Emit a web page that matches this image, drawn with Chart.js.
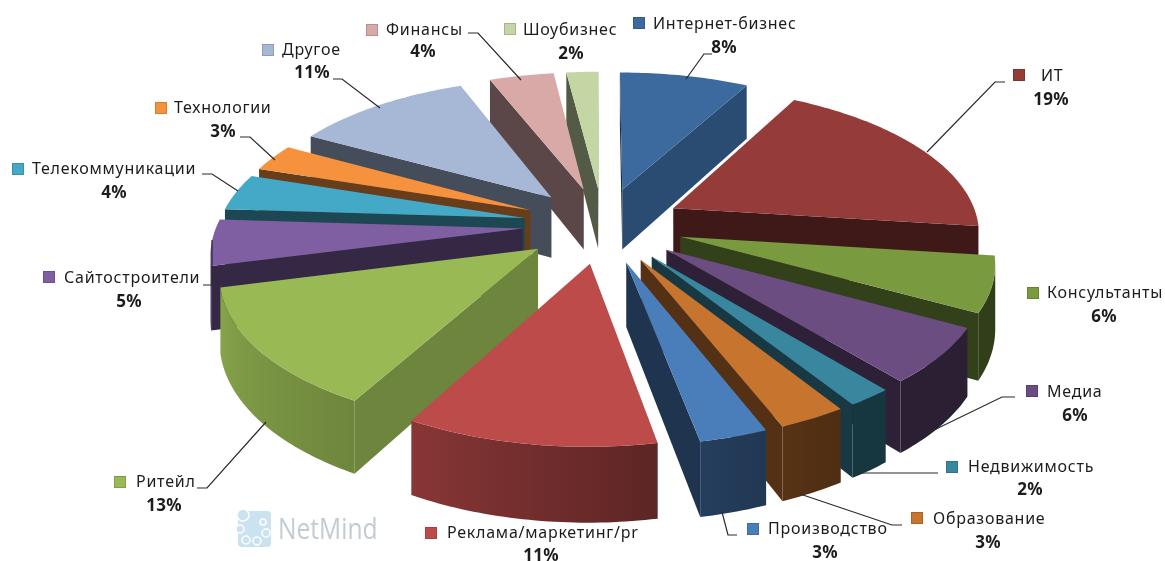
<!DOCTYPE html>
<html><head><meta charset="utf-8">
<style>html,body{margin:0;padding:0;background:#fff}canvas{display:block;filter:blur(0.45px)}</style>
<script src="https://cdn.jsdelivr.net/npm/chart.js@4"></script></head>
<body><canvas id="c" width="1165" height="561"></canvas>
<script>
const categories = ["Интернет-бизнес","ИТ","Консультанты","Медиа","Недвижимость","Образование","Производство","Реклама/маркетинг/pr","Ритейл","Сайтостроители","Телекоммуникации","Технологии","Другое","Финансы","Шоубизнес"];
const values = [8,19,6,6,2,3,3,11,13,5,4,3,11,4,2];
const colors = ["#3c6a9f","#953c3a","#7a9a40","#6b4d82","#38879f","#c7742f","#4a7ebb","#bc4b4a","#98b954","#7f5fa1","#44a9c6","#f6923d","#a7b7d6","#d9a9a8","#c5d6a5"];
// key x, key y, name x, name y, percent centre x, percent y
const labelLayout = [[633,17,653,24,724,48],[1013,69,1041,76,1051,100],[1027,287,1047,293,1104,317],[1026,385,1047,392,1075,416],[946,461,968,467,1030,490],[911,512,933,519,988,543],[747,523,768,529,825,553],[425,527,447,533,541,556],[114,476,136,482,164,506],[43,271,64,278,129,302],[12,163,32,169,114,193],[155,102,174,108,223,132],[262,44,282,50,312,73],[366,24,386,30,423,52],[504,23,523,30,571,54]];
const leaders = [[[686,79],[704,54],[712,54]],[[927,152],[995,82],[1005,82]],null,[[932,431],[1002,397],[1015,397]],[[858,473],[938,473]],[[800,494],[892,525],[902,525]],[[722,512],[728,535],[737,535]],null,[[266,422],[207,488],[197,488]],[[212,240],[212,285],[203,285]],[[238,191],[212,174],[202,174]],[[275,160],[250,137],[240,137]],[[380,108],[342,79],[333,79]],[[521,80],[478,33],[468,33]],null];
const view = {cx:603, cy:225, radius:306, tilt:0.47, persp:2100, depth:62};

function proj(u,v,h){
  const f = 1/(1+v/view.persp);
  return [view.cx+u*f, view.cy-v*view.tilt*f+(h||0)*f];
}
function shade(hex,s){
  const n=parseInt(hex.slice(1),16);
  return `rgb(${Math.round((n>>16&255)*s)},${Math.round((n>>8&255)*s)},${Math.round((n&255)*s)})`;
}
function wallShade(deg){
  if(deg<=150) return 0.4;
  if(deg<=170) return 0.4+(deg-150)*0.005;
  if(deg<=210) return 0.5+(deg-170)*0.00575;
  return Math.min(0.9,0.73+(deg-210)*0.0035);
}
function poly(ctx,p,fill){
  ctx.beginPath();p.forEach((q,i)=>i?ctx.lineTo(q[0],q[1]):ctx.moveTo(q[0],q[1]));ctx.closePath();
  ctx.fillStyle=fill;ctx.fill();
}
function quad(ctx,a,b,h,fill){
  poly(ctx,[proj(a[0],a[1],0),proj(b[0],b[1],0),proj(b[0],b[1],h),proj(a[0],a[1],h)],fill);
}
const pie3d = {
  id:'pie3d',
  beforeDatasetDraw(chart,args){
    const ctx=chart.ctx, arcs=chart.getDatasetMeta(args.index).data;
    const items=arcs.map((el,i)=>{
      const s=view.radius/el.outerRadius, off=(el.options.offset/4)*s;
      const mid=(el.startAngle+el.endAngle)/2;
      return {i,el,off,mid};
    }).sort((a,b)=>Math.sin(a.mid)-Math.sin(b.mid));
    for(const it of items){
      const {i,el,off,mid}=it, col=colors[i], R=view.radius;
      const ax=Math.cos(mid)*off, ay=-Math.sin(mid)*off;
      const pts=[], n=Math.max(4,Math.ceil((el.endAngle-el.startAngle)*180/Math.PI));
      for(let k=0;k<=n;k++){
        const a=el.startAngle+(el.endAngle-el.startAngle)*k/n;
        pts.push([ax+Math.cos(a)*R, ay-Math.sin(a)*R]);
      }
      const apex=[ax,ay], h=view.depth;
      const startDeg=(el.startAngle+Math.PI/2)*180/Math.PI, endDeg=(el.endAngle+Math.PI/2)*180/Math.PI;
      const fs=deg=>{let d=((deg%360)+360)%360;return Math.abs(d-118.8)<15?0.72:0.42;};
      const vis=(a,b)=>proj(b[0],b[1],0)[0]<proj(a[0],a[1],0)[0];
      if(vis(apex,pts[0])) quad(ctx,apex,pts[0],h,shade(col,fs(startDeg-90)));
      if(vis(pts[n],apex)) quad(ctx,pts[n],apex,h,shade(col,fs(endDeg+90)));
      // outer wall: one polygon per visible run, with a horizontal gradient
      const idx=[];for(let k=0;k<=n;k++){ if((k<n&&vis(pts[k],pts[k+1]))||(k>0&&vis(pts[k-1],pts[k]))) idx.push(k); }
      if(idx.length>1){
        const top=idx.map(k=>proj(pts[k][0],pts[k][1],0)), bot=idx.map(k=>proj(pts[k][0],pts[k][1],h)).reverse();
        const x0=top[0][0], x1=top[top.length-1][0];
        const g=ctx.createLinearGradient(x0,0,x1,0);
        idx.forEach((k,j)=>{
          const deg=startDeg+(endDeg-startDeg)*k/n;
          const t=x1===x0?0:(top[j][0]-x0)/(x1-x0);
          g.addColorStop(Math.min(1,Math.max(0,t)),shade(col,wallShade(deg)));
        });
        poly(ctx,top.concat(bot),g);
      }
      const q=proj(apex[0],apex[1],0);
      const outline=[q].concat(pts.map(p=>proj(p[0],p[1],0)));
      poly(ctx,outline,col);
    }
    return false;
  },
  afterDraw(chart){
    const ctx=chart.ctx;
    ctx.save();
    // watermark
    ctx.fillStyle='#cbe3f1';ctx.beginPath();ctx.roundRect(238,511,33,36,4);ctx.fill();
    ctx.strokeStyle='#fff';ctx.lineWidth=1.5;ctx.fillStyle='#cbe3f1';
    [[243,515,6],[240,529,4],[246,540,4],[257,541,4],[266,533,4],[263,522,3]].forEach(c=>{ctx.beginPath();ctx.arc(c[0],c[1],c[2],0,7);ctx.fill();ctx.stroke();});
    ctx.save();ctx.translate(278,530);ctx.scale(0.82,1);
    ctx.fillStyle='#c2ccd2';ctx.font='30px "Open Sans"';ctx.textBaseline='middle';ctx.textAlign='left';
    ctx.fillText('NetMind',0,0);ctx.restore();
    // leaders
    ctx.strokeStyle='#2a2a2a';ctx.lineWidth=1.2;
    leaders.forEach(l=>{if(!l)return;ctx.beginPath();l.forEach((p,i)=>i?ctx.lineTo(p[0],p[1]):ctx.moveTo(p[0],p[1]));ctx.stroke();});
    categories.forEach((name,i)=>{
      const L=labelLayout[i];
      ctx.fillStyle=colors[i];ctx.fillRect(L[0],L[1],12,12);
      ctx.lineWidth=1;ctx.strokeStyle=shade(colors[i],0.85);ctx.strokeRect(L[0]+.5,L[1]+.5,11,11);
      ctx.fillStyle='#1c1c1c';ctx.textAlign='left';ctx.textBaseline='middle';
      ctx.font='16px "Noto Sans"';ctx.letterSpacing='0.75px';
      ctx.fillText(name,L[2],L[3]);
      ctx.font='bold 17px "Noto Sans"';ctx.textAlign='center';ctx.letterSpacing='0.3px';
      ctx.fillText(values[i]+'%',L[4],L[5]);
      ctx.letterSpacing='0px';
    });
    ctx.restore();
  }
};
new Chart(document.getElementById('c'),{
  type:'pie',
  data:{labels:categories,datasets:[{data:values,backgroundColor:colors,offset:193,borderWidth:0}]},
  options:{responsive:false,animation:false,layout:{padding:0},plugins:{legend:{display:false},tooltip:{enabled:false}}},
  plugins:[pie3d]
});
</script></body></html>
